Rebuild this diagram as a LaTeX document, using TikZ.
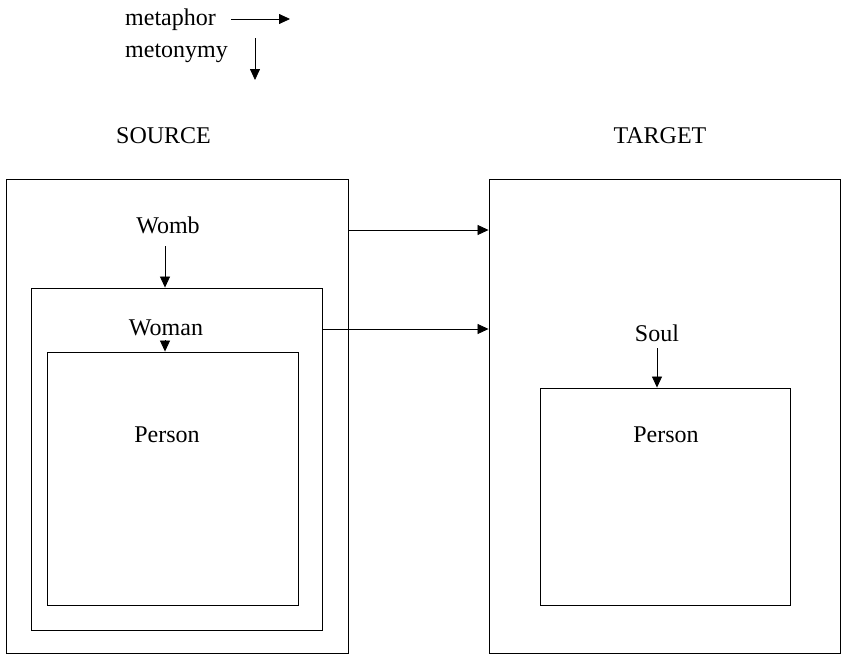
\documentclass[tikz,border=0pt]{standalone}
\usepackage{fontspec}
\setmainfont{Liberation Serif}
\usetikzlibrary{arrows.meta}
\begin{document}
\begin{tikzpicture}[x=1pt,y=-1pt,
  box/.style={draw, line width=0.9pt, inner sep=0pt},
  lbl/.style={font=\fontsize{24}{28}\selectfont, inner sep=0pt, anchor=base},
  arr/.style={line width=0.8pt, -{Triangle[length=11pt,width=10pt]}}]
\useasboundingbox (0,0) rectangle (841,656);
% legend
\node[lbl, anchor=base west] (metaphor) at (125,25) {metaphor};
\node[lbl, anchor=base west] (metonymy) at (125,57) {metonymy};
\coordinate (la) at (231,19);
\coordinate (lb) at (290,19);
\coordinate (lc) at (255,38);
\coordinate (ld) at (255,80);
\draw[arr] (la) -- (lb);
\draw[arr] (lc) -- (ld);
% headings
\node[lbl] (source) at (163.5,143) {SOURCE};
\node[lbl] (target) at (660,143) {TARGET};
% source domain
\node[box, minimum width=342pt, minimum height=474pt] (outer) at (177,416) {};
\node[box, minimum width=291pt, minimum height=342pt] (middle) at (176.5,459) {};
\node[box, minimum width=251pt, minimum height=253pt] (inner) at (172.5,478.5) {};
\node[lbl] (womb) at (168,233) {Womb};
\node[lbl] (woman) at (166,335) {Woman};
\node[lbl] (person1) at (167,442) {Person};
% target domain
\node[box, minimum width=351pt, minimum height=474pt] (tgt) at (664.5,416) {};
\node[box, minimum width=250pt, minimum height=217pt] (tinner) at (665,496.5) {};
\node[lbl] (soul) at (657,341) {Soul};
\node[lbl] (person2) at (666,442) {Person};
% metonymic links
\coordinate (wa) at (165,246);
\coordinate (wb) at (165,340);
\coordinate (sa) at (657,348);
\draw[arr] (wa) -- (wa |- middle.north);
\draw[arr] (wb) -- (wb |- inner.north);
\draw[arr] (sa) -- (sa |- tinner.north);
% metaphoric links
\draw[arr] (outer.east |- 0,230) -- (tgt.west |- 0,230);
\draw[arr] (middle.east |- 0,329) -- (tgt.west |- 0,329);
\end{tikzpicture}
\end{document}
